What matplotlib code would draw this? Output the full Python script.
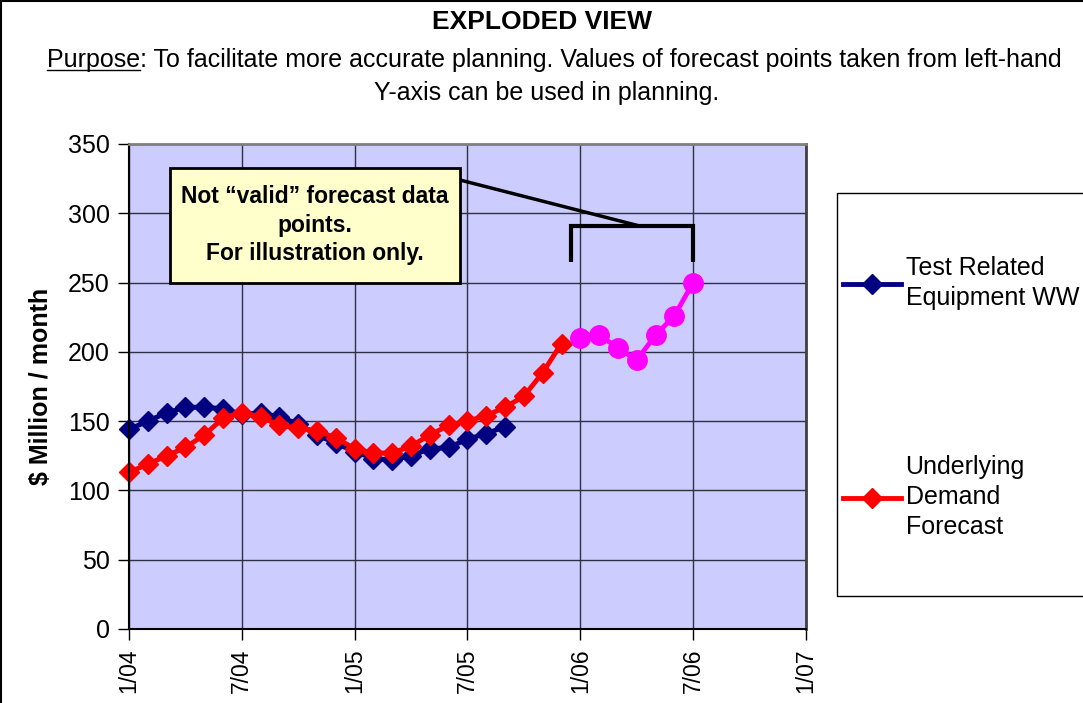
import matplotlib
matplotlib.use('Agg')
import matplotlib.pyplot as plt
from matplotlib.lines import Line2D
from matplotlib.patches import Rectangle

plt.rcParams['font.family'] = ['Liberation Sans', 'DejaVu Sans']

# monthly data, month 0 = 1/04
tick_labels = ['1/04', '7/04', '1/05', '7/05', '1/06', '7/06', '1/07']
test_related = [144, 150, 156, 160, 160, 159, 155, 156, 153, 148, 140, 134,
                128, 123, 122, 125, 130, 131, 137, 141, 146]
underlying = [113, 119, 125, 131, 140, 152, 156, 153, 147, 145, 143, 138,
              130, 127, 127, 132, 140, 147, 150, 154, 160, 168, 185, 206]
forecast = [210, 212, 203, 194, 212, 226, 250]
forecast_start = 24  # 1/06

fig = plt.figure(figsize=(10.83, 7.03), dpi=100)
W, H = 1083, 703
ax = fig.add_axes([0.1191, 0.1053, 0.6251, 0.6899])
ax.set_facecolor('#CCCCFF')
ax.set_xlim(0, 36)
ax.set_ylim(0, 350)
ax.set_xticks(range(0, 37, 6))
ax.set_xticklabels(tick_labels, rotation=90, fontsize=16.5)
ax.set_yticks(range(0, 351, 50))
ax.tick_params(axis='y', labelsize=18, length=8, width=1, pad=6)
ax.tick_params(axis='x', length=8, width=1, pad=6)
ax.grid(True, color='#303040', linewidth=1)
ax.set_axisbelow(True)
ax.spines['left'].set_color('black')
ax.spines['left'].set_linewidth(1.5)
ax.spines['bottom'].set_color('black')
ax.spines['bottom'].set_linewidth(1.5)
ax.spines['top'].set_color('#808080')
ax.spines['top'].set_linewidth(2)
ax.spines['right'].set_color('#404040')
ax.spines['right'].set_linewidth(2)

ax.set_ylabel('$ Million / month', fontsize=18, fontweight='bold')
ax.yaxis.set_label_coords(-0.112, 0.5)

# series
ax.plot(range(len(test_related)), test_related, color='#000080', lw=3.5,
        marker='D', ms=10, clip_on=False, label='Test Related\nEquipment WW')
ax.plot(range(len(underlying)), underlying, color='#FF0000', lw=3.5,
        marker='D', ms=10, clip_on=False, label='Underlying\nDemand\nForecast')
fx = list(range(forecast_start, forecast_start + len(forecast)))
ax.plot(fx, forecast, color='#FF00FF', lw=3.5, marker='o', ms=14, zorder=3)

# bracket over the forecast points and callout
bx0 = forecast_start - 0.5
bx1 = fx[-1]
ax.plot([bx0, bx0, bx1, bx1], [265, 291, 291, 265], color='black', lw=3,
        solid_joinstyle='miter', solid_capstyle='butt')
ax.plot([27.1, 17.6], [291, 324], color='black', lw=2.5)

ax.add_patch(Rectangle((2.2, 250), 15.4, 83, facecolor='#FFFFCC',
                       edgecolor='black', lw=2, zorder=4))
ax.text(9.9, 291.5, 'Not \u201cvalid\u201d forecast data\npoints.\nFor illustration only.',
        ha='center', va='center', fontsize=16.5, fontweight='bold',
        linespacing=1.32, zorder=5)

# legend box
fig.add_artist(Rectangle((837 / W, 1 - 596 / H), 0.3, (596 - 193) / H,
                         transform=fig.transFigure, facecolor='white',
                         edgecolor='black', lw=1))
leg = fig.legend(loc='upper left', bbox_to_anchor=(843 / W, 1 - 256 / H),
                 frameon=False, fontsize=18, borderpad=0, borderaxespad=0,
                 handlelength=2.3, handletextpad=0.2, labelspacing=5.8)
for t in leg.get_texts():
    t.set_linespacing(1.32)

# titles
fig.text(0.5, 1 - 22 / H, 'EXPLODED VIEW', ha='center', va='center',
         fontsize=19, fontweight='bold')
line1 = ('Purpose: To facilitate more accurate planning. Values of forecast '
         'points taken from left-hand')
t1 = fig.text(554 / W, 1 - 60 / H, line1, ha='center', va='center', fontsize=18)
fig.text(547 / W, 1 - 93 / H, 'Y-axis can be used in planning.',
         ha='center', va='center', fontsize=18)

renderer = fig.canvas.get_renderer()
bb = t1.get_window_extent(renderer)
tmp = fig.text(0, 0, 'Purpose', fontsize=18)
wp = tmp.get_window_extent(renderer).width
tmp.remove()
uy = (bb.y0 + 2) / H
fig.add_artist(Line2D([bb.x0 / W, (bb.x0 + wp) / W], [uy, uy],
                      transform=fig.transFigure, color='black', lw=1))

# outer frame (left and top visible)
fig.add_artist(Line2D([0.001, 0.001], [0, 1], transform=fig.transFigure,
                      color='black', lw=1.5))
fig.add_artist(Line2D([0, 1], [0.999, 0.999], transform=fig.transFigure,
                      color='black', lw=1.5))

fig.savefig('out.png', dpi=100)
